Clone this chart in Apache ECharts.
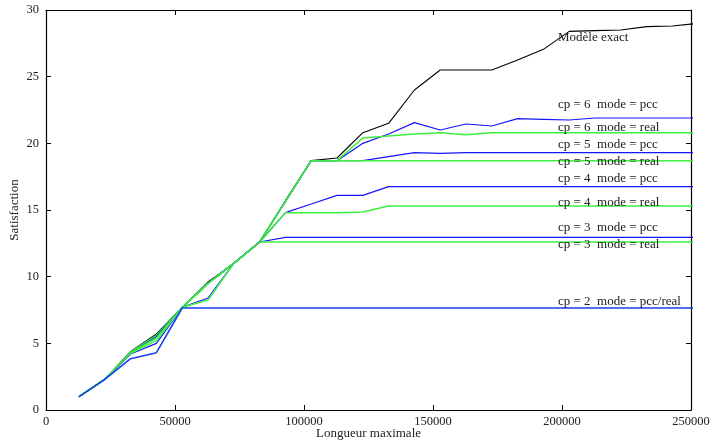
<!DOCTYPE html>
<html>
<head>
<meta charset="utf-8">
<script src="https://cdn.jsdelivr.net/npm/echarts@6/dist/echarts.min.js"></script>
<style>html,body{margin:0;padding:0;background:#fff}#c{width:711px;height:443px}</style>
</head>
<body>
<div id="c"></div>
<script>
// ---- data ----
const xValues = [12800, 22800, 32800, 42800, 52800, 62800, 72800, 82800, 92800, 102800, 112800, 122800, 132800,
                 142800, 152800, 162800, 172800, 182800, 192800, 202800, 212800, 222800, 232800, 242800, 252800];
const exact   = [1.0, 2.3, 4.4, 5.7, 7.7, 9.6, 11.0, 12.6, 15.7, 18.7, 18.9, 20.8, 21.5, 24.0, 25.5, 25.5, 25.5, 26.25, 27.05, 28.4, 28.45, 28.5, 28.75, 28.8, 29.0];
const cp6pcc  = [1.0, 2.3, 4.35, 5.6, 7.7, 9.5, 11.0, 12.6, 15.65, 18.7, 18.7, 20.0, 20.7, 21.55, 21.0, 21.45, 21.3, 21.85, 21.8, 21.75, 21.9, 21.9, 21.9, 21.9, 21.9];
const cp6real = [1.0, 2.3, 4.35, 5.6, 7.7, 9.5, 11.0, 12.6, 15.65, 18.7, 18.7, 20.4, 20.55, 20.7, 20.8, 20.65, 20.8, 20.8, 20.8, 20.8, 20.8, 20.8, 20.8, 20.8, 20.8];
const cp5pcc  = [1.0, 2.3, 4.3, 5.5, 7.7, 9.5, 11.0, 12.6, 15.65, 18.7, 18.7, 18.7, 19.0, 19.3, 19.25, 19.3, 19.3, 19.3, 19.3, 19.3, 19.3, 19.3, 19.3, 19.3, 19.3];
const cp5real = [1.0, 2.3, 4.3, 5.5, 7.7, 9.5, 11.0, 12.6, 15.65, 18.7, 18.7, 18.7, 18.7, 18.7, 18.7, 18.7, 18.7, 18.7, 18.7, 18.7, 18.7, 18.7, 18.7, 18.7, 18.7];
const cp4pcc  = [1.0, 2.3, 4.3, 5.5, 7.7, 9.5, 11.0, 12.6, 14.8, 15.45, 16.1, 16.1, 16.75, 16.75, 16.75, 16.75, 16.75, 16.75, 16.75, 16.75, 16.75, 16.75, 16.75, 16.75, 16.75];
const cp4real = [1.0, 2.3, 4.3, 5.4, 7.7, 9.5, 11.0, 12.6, 14.8, 14.8, 14.8, 14.85, 15.3, 15.3, 15.3, 15.3, 15.3, 15.3, 15.3, 15.3, 15.3, 15.3, 15.3, 15.3, 15.3];
const cp3pcc  = [1.0, 2.3, 4.2, 5.0, 7.7, 8.4, 11.0, 12.6, 12.95, 12.95, 12.95, 12.95, 12.95, 12.95, 12.95, 12.95, 12.95, 12.95, 12.95, 12.95, 12.95, 12.95, 12.95, 12.95, 12.95];
const cp3real = [1.0, 2.3, 4.25, 5.2, 7.7, 8.25, 11.0, 12.6, 12.6, 12.6, 12.6, 12.6, 12.6, 12.6, 12.6, 12.6, 12.6, 12.6, 12.6, 12.6, 12.6, 12.6, 12.6, 12.6, 12.6];
const cp2     = [1.0, 2.3, 3.85, 4.3, 7.65, 7.65, 7.65, 7.65, 7.65, 7.65, 7.65, 7.65, 7.65, 7.65, 7.65, 7.65, 7.65, 7.65, 7.65, 7.65, 7.65, 7.65, 7.65, 7.65, 7.65];
const xTicks = [0, 50000, 100000, 150000, 200000, 250000];
const yTicks = [0, 5, 10, 15, 20, 25, 30];
const labelTexts = ['Modèle exact', 'cp = 6  mode = pcc', 'cp = 6  mode = real', 'cp = 5  mode = pcc', 'cp = 5  mode = real',
                    'cp = 4  mode = pcc', 'cp = 4  mode = real', 'cp = 3  mode = pcc', 'cp = 3  mode = real', 'cp = 2  mode = pcc/real'];
// ---- styling / layout ----
const labelY = [39, 105.5, 129, 146, 162.5, 179.5, 203.5, 228.5, 245.5, 302.5];
const BLUE = '#1414ff', GREEN = '#3ef03e', BLACK = '#000';
const FONT = 'Liberation Serif';

function mk(name, arr, color, w) {
  return {
    name, type: 'line', data: xValues.map((x, i) => [x, arr[i]]),
    showSymbol: false, symbol: 'none', clip: true, animation: false,
    lineStyle: { color, width: w }, itemStyle: { color }
  };
}
const series = [
  mk('exact', exact, BLACK, 1.1),
  mk('cp6pcc', cp6pcc, BLUE, 1.2), mk('cp6real', cp6real, GREEN, 1.5),
  mk('cp5pcc', cp5pcc, BLUE, 1.2), mk('cp5real', cp5real, GREEN, 1.5),
  mk('cp4pcc', cp4pcc, BLUE, 1.2), mk('cp4real', cp4real, GREEN, 1.5),
  mk('cp3pcc', cp3pcc, BLUE, 1.2), mk('cp3real', cp3real, GREEN, 1.5),
  mk('cp2', cp2, '#1a40f0', 1.6)
];

const axisLabelStyle = { fontFamily: FONT, fontSize: 12.5, color: '#222' };
const tickStyle = { show: true, inside: true, length: 5, lineStyle: { color: '#000', width: 1 } };
const lineStyle = { show: true, onZero: false, lineStyle: { color: '#000', width: 1.2 } };

const chart = echarts.init(document.getElementById('c'), null, { renderer: 'canvas' });
chart.setOption({
  backgroundColor: '#fff',
  animation: false,
  grid: { left: 46, right: 20, top: 10, bottom: 33, containLabel: false, outerBoundsMode: 'none' },
  xAxis: [{
    type: 'value', min: xTicks[0], max: xTicks[xTicks.length - 1], interval: 50000,
    axisLine: lineStyle, axisTick: tickStyle, splitLine: { show: false },
    axisLabel: Object.assign({ margin: 5, formatter: v => String(v), hideOverlap: false }, axisLabelStyle),
    name: 'Longueur maximale', nameLocation: 'middle', nameGap: 17, nameMoveOverlap: false,
    nameTextStyle: { fontFamily: FONT, fontSize: 13, color: '#222' }
  }, {
    type: 'value', position: 'top', min: xTicks[0], max: xTicks[xTicks.length - 1], interval: 50000,
    axisLine: lineStyle, axisTick: tickStyle, axisLabel: { show: false }, splitLine: { show: false }
  }],
  yAxis: [{
    type: 'value', min: yTicks[0], max: yTicks[yTicks.length - 1], interval: 5,
    axisLine: lineStyle, axisTick: tickStyle, splitLine: { show: false },
    axisLabel: Object.assign({ margin: 7 }, axisLabelStyle),
    name: 'Satisfaction', nameLocation: 'middle', nameGap: 25, nameRotate: 90, nameMoveOverlap: false,
    nameTextStyle: { fontFamily: FONT, fontSize: 13, color: '#222' }
  }, {
    type: 'value', position: 'right', min: yTicks[0], max: yTicks[yTicks.length - 1], interval: 5,
    axisLine: lineStyle, axisTick: tickStyle, axisLabel: { show: false }, splitLine: { show: false }
  }],
  series,
  graphic: labelTexts.map((t, i) => ({
    type: 'text', left: 558, top: labelY[i] - 7.5, z: 100,
    style: { text: t, font: '13px "' + FONT + '"', fill: '#222' }
  }))
});
</script>
</body>
</html>
